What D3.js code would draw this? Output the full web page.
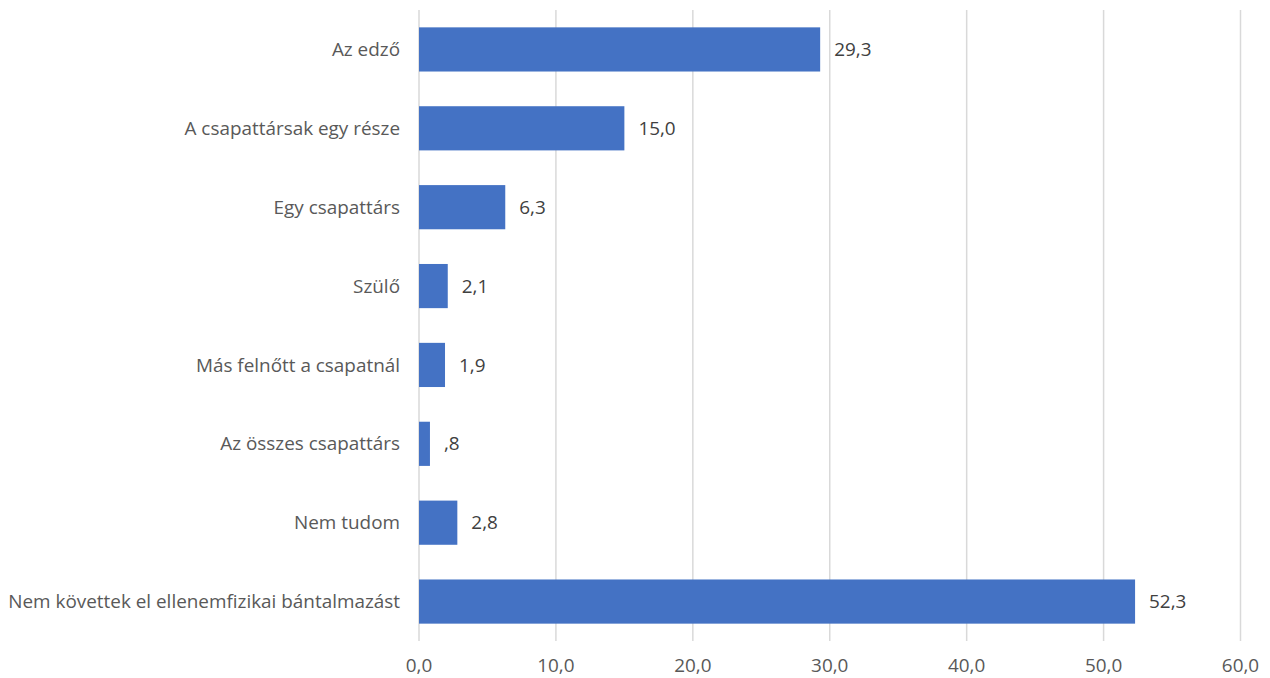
<!DOCTYPE html>
<html><head><meta charset="utf-8">
<script src="https://cdn.jsdelivr.net/npm/d3@7"></script>
<style>body{margin:0;background:#fff} text{font-variant-ligatures:none}</style>
</head><body><svg id="c" width="1270" height="678"></svg>
<script>
const categories = ["Az edző","A csapattársak egy része","Egy csapattárs","Szülő","Más felnőtt a csapatnál","Az összes csapattárs","Nem tudom","Nem követtek el ellenemfizikai bántalmazást"];
const values = [29.3,15.0,6.3,2.1,1.9,0.8,2.8,52.3];
const valueLabels = ["29,3","15,0","6,3","2,1","1,9",",8","2,8","52,3"];
const tickValues = [0,10,20,30,40,50,60];
const tickLabels = ["0,0","10,0","20,0","30,0","40,0","50,0","60,0"];

const svg = d3.select("#c");
const font = "'Open Sans', sans-serif";
const fs = 18.9;
const x = d3.scaleLinear().domain([0,60]).range([419,1240.5]);
const y = d3.scaleBand().domain(categories).range([10,641]).paddingInner(0.44).paddingOuter(0.22);

svg.append("g").selectAll("line").data(tickValues).join("line")
  .attr("x1",d=>x(d)).attr("x2",d=>x(d)).attr("y1",10).attr("y2",641)
  .attr("stroke","#d9d9d9").attr("stroke-width",1.5);

svg.append("g").selectAll("rect").data(values).join("rect")
  .attr("x",x(0)).attr("y",(d,i)=>y(categories[i]))
  .attr("width",d=>x(d)-x(0)).attr("height",y.bandwidth())
  .attr("fill","#4472c4");

svg.append("g").selectAll("text").data(values).join("text")
  .attr("x",d=>x(d)+14).attr("y",(d,i)=>y(categories[i])+y.bandwidth()/2)
  .attr("dy","0.35em").text((d,i)=>valueLabels[i])
  .attr("font-family",font).attr("font-size",fs).attr("fill","#404040");

svg.append("g").selectAll("text").data(categories).join("text")
  .attr("x",400).attr("y",d=>y(d)+y.bandwidth()/2).attr("dy","0.35em")
  .attr("text-anchor","end").text(d=>d)
  .attr("font-family",font).attr("font-size",fs).attr("fill","#595959");

svg.append("g").selectAll("text").data(tickValues).join("text")
  .attr("x",d=>x(d)).attr("y",665).attr("dy","0.35em").attr("text-anchor","middle")
  .text((d,i)=>tickLabels[i])
  .attr("font-family",font).attr("font-size",fs).attr("fill","#595959");
</script></body></html>
